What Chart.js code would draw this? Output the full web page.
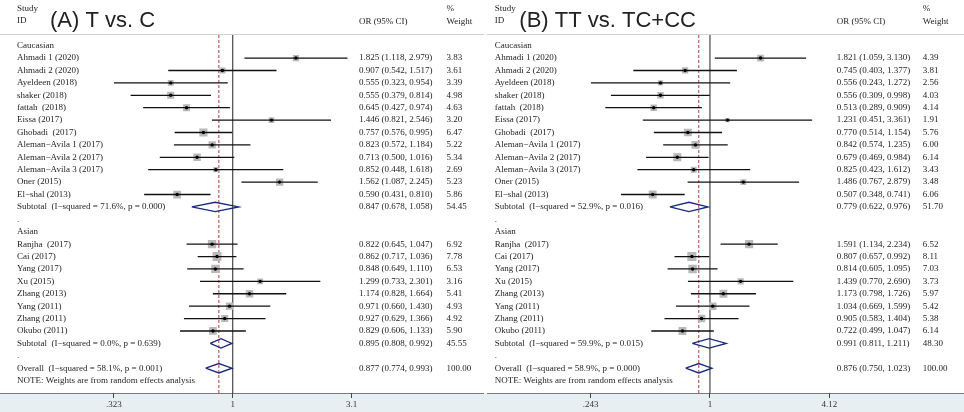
<!DOCTYPE html>
<html>
<head>
<meta charset="utf-8">
<script src="https://cdn.jsdelivr.net/npm/chart.js@4"></script>
<style>
  body { margin: 0; background: #fff; }
  #wrap { position: relative; width: 964px; height: 412px; overflow: hidden; }
  canvas { position: absolute; top: 0; }
</style>
</head>
<body>
<div id="wrap">
  <canvas id="chartA" width="485" height="412" style="left:0"></canvas>
  <canvas id="chartB" width="479" height="412" style="left:485px"></canvas>
</div>
<script>
// study labels, first 12 Caucasian then 8 Asian
const studyNames = [
  'Ahmadi 1 (2020)', 'Ahmadi 2 (2020)', 'Ayeldeen (2018)', 'shaker (2018)', 'fattah  (2018)',
  'Eissa (2017)', 'Ghobadi  (2017)', 'Aleman−Avila 1 (2017)', 'Aleman−Avila 2 (2017)',
  'Aleman−Avila 3 (2017)', 'Oner (2015)', 'El−shal (2013)',
  'Ranjha  (2017)', 'Cai (2017)', 'Yang (2017)', 'Xu (2015)', 'Zhang (2013)',
  'Yang (2011)', 'Zhang (2011)', 'Okubo (2011)'
];
const groupNames = ['Caucasian', 'Asian'];

// (A) T vs. C
const orA     = [1.825, 0.907, 0.555, 0.555, 0.645, 1.446, 0.757, 0.823, 0.713, 0.852, 1.562, 0.590,
                 0.822, 0.862, 0.848, 1.299, 1.174, 0.971, 0.927, 0.829];
const lowA    = [1.118, 0.542, 0.323, 0.379, 0.427, 0.821, 0.576, 0.572, 0.500, 0.448, 1.087, 0.431,
                 0.645, 0.717, 0.649, 0.733, 0.828, 0.660, 0.629, 0.606];
const highA   = [2.979, 1.517, 0.954, 0.814, 0.974, 2.546, 0.995, 1.184, 1.016, 1.618, 2.245, 0.810,
                 1.047, 1.036, 1.110, 2.301, 1.664, 1.430, 1.366, 1.133];
const weightA = [3.83, 3.61, 3.39, 4.98, 4.63, 3.20, 6.47, 5.22, 5.34, 2.69, 5.23, 5.86,
                 6.92, 7.78, 6.53, 3.16, 5.41, 4.93, 4.92, 5.90];
const subOrA = [0.847, 0.895];
const subLowA = [0.678, 0.808];
const subHighA = [1.058, 0.992];
const subWeightA = [54.45, 45.55];
const subStatA = ['Subtotal  (I−squared = 71.6%, p = 0.000)', 'Subtotal  (I−squared = 0.0%, p = 0.639)'];
const overallA = [0.877, 0.774, 0.993];
const overallStatA = 'Overall  (I−squared = 58.1%, p = 0.001)';
const tickValsA = [0.323, 1, 3.1];
const tickLabelsA = ['.323', '1', '3.1'];

// (B) TT vs. TC+CC
const orB     = [1.821, 0.745, 0.556, 0.556, 0.513, 1.231, 0.770, 0.842, 0.679, 0.825, 1.486, 0.507,
                 1.591, 0.807, 0.814, 1.439, 1.173, 1.034, 0.905, 0.722];
const lowB    = [1.059, 0.403, 0.243, 0.309, 0.289, 0.451, 0.514, 0.574, 0.469, 0.423, 0.767, 0.348,
                 1.134, 0.657, 0.605, 0.770, 0.798, 0.669, 0.583, 0.499];
const highB   = [3.130, 1.377, 1.272, 0.998, 0.909, 3.361, 1.154, 1.235, 0.984, 1.612, 2.879, 0.741,
                 2.234, 0.992, 1.095, 2.690, 1.726, 1.599, 1.404, 1.047];
const weightB = [4.39, 3.81, 2.56, 4.03, 4.14, 1.91, 5.76, 6.00, 6.14, 3.43, 3.48, 6.06,
                 6.52, 8.11, 7.03, 3.73, 5.97, 5.42, 5.38, 6.14];
const subOrB = [0.779, 0.991];
const subLowB = [0.622, 0.811];
const subHighB = [0.976, 1.211];
const subWeightB = [51.70, 48.30];
const subStatB = ['Subtotal  (I−squared = 52.9%, p = 0.016)', 'Subtotal  (I−squared = 59.9%, p = 0.015)'];
const overallB = [0.876, 0.750, 1.023];
const overallStatB = 'Overall  (I−squared = 58.9%, p = 0.000)';
const tickValsB = [0.243, 1, 4.12];
const tickLabelsB = ['.243', '1', '4.12'];

const noteText = 'NOTE: Weights are from random effects analysis';

// row layout: 0 Caucasian, 1-12 studies, 13 subtotal, 14 '.', 15 Asian, 16-23, 24 subtotal, 25 '.', 26 overall, 27 note
const studyRow = i => (i < 12 ? i + 1 : i + 4);
const subRows = [13, 24];
const groupRows = [0, 15];
const dotRows = [14, 25];
const overallRow = 26;
const noteRow = 27;

const SERIF = '9px "Liberation Serif", "Times New Roman", serif';
const fmt = (o, l, h) => `${o.toFixed(3)} (${l.toFixed(3)}, ${h.toFixed(3)})`;

const forestPlugin = {
  id: 'forest',
  beforeDraw(chart, args, opts) {
    const { ctx, chartArea: a, width, height } = chart;
    ctx.save();
    ctx.fillStyle = '#ffffff';
    ctx.fillRect(0, 0, width, height);
    ctx.fillStyle = '#e7eff3';
    ctx.fillRect(0, a.bottom, width, height - a.bottom);
    ctx.strokeStyle = '#7a7a7a';
    ctx.lineWidth = 1;
    ctx.beginPath();
    ctx.moveTo(opts.lineFrom, a.bottom + 0.5);
    ctx.lineTo(opts.lineTo, a.bottom + 0.5);
    ctx.stroke();
    ctx.strokeStyle = '#d2d2d2';
    ctx.beginPath();
    ctx.moveTo(opts.lineFrom, a.top - 0.5);
    ctx.lineTo(opts.lineTo, a.top - 0.5);
    ctx.stroke();
    ctx.restore();
  },
  afterDraw(chart, args, opts) {
    const { ctx } = chart;
    const y = chart.scales.y;
    const p = opts.panel;
    ctx.save();
    ctx.fillStyle = '#1e1e1e';
    ctx.textBaseline = 'middle';
    ctx.font = SERIF;
    // header
    ctx.fillText('Study', opts.nameX, 9);
    ctx.fillText('ID', opts.nameX, 21);
    ctx.fillText('OR (95% CI)', opts.orX, 22);
    ctx.fillText('%', opts.wX, 9);
    ctx.fillText('Weight', opts.wX, 22);
    const row = (txt, r, x) => ctx.fillText(txt, x, y.getPixelForValue(r));
    groupRows.forEach((r, g) => row(groupNames[g], r, opts.nameX));
    dotRows.forEach(r => row('.', r, opts.nameX));
    studyNames.forEach((n, i) => {
      const r = studyRow(i);
      row(n, r, opts.nameX);
      row(fmt(p.or[i], p.low[i], p.high[i]), r, opts.orX);
      row(p.weight[i].toFixed(2), r, opts.wX);
    });
    subRows.forEach((r, g) => {
      row(p.subStat[g], r, opts.nameX);
      row(fmt(p.subOr[g], p.subLow[g], p.subHigh[g]), r, opts.orX);
      row(p.subWeight[g].toFixed(2), r, opts.wX);
    });
    row(p.overallStat, overallRow, opts.nameX);
    row(fmt(p.overall[0], p.overall[1], p.overall[2]), overallRow, opts.orX);
    row('100.00', overallRow, opts.wX);
    row(noteText, noteRow, opts.nameX);
    // title
    ctx.font = '22px "Liberation Sans", Arial, sans-serif';
    ctx.fillStyle = '#222';
    ctx.textBaseline = 'alphabetic';
    ctx.fillText(opts.title, opts.titleX, 27);
    ctx.restore();
  }
};

function makeChart(id, p, layout) {
  const yMin = -0.86, yMax = 28;
  const datasets = [];

  // study markers: centre dots, CI lines, weight boxes
  const pts = p.or.map((o, i) => ({ x: o, y: studyRow(i) }));
  datasets.push({
    data: pts, pointStyle: 'circle', pointRadius: 1.7,
    backgroundColor: '#000', borderWidth: 0, order: 0
  });
  p.or.forEach((o, i) => {
    datasets.push({
      data: [{ x: p.low[i], y: studyRow(i) }, { x: p.high[i], y: studyRow(i) }],
      showLine: true, borderColor: '#111', borderWidth: 1.3, pointRadius: 0, order: 1
    });
  });
  datasets.push({
    data: pts, pointStyle: 'rect',
    pointRadius: p.weight.map(w => 3.2 * Math.sqrt(w) / Math.SQRT2),
    backgroundColor: '#b9b9b9', borderWidth: 0, order: 2
  });

  // pooled diamonds
  const dh = 0.38;
  const diamonds = subRows.map((r, g) => [p.subOr[g], p.subLow[g], p.subHigh[g], r])
    .concat([[p.overall[0], p.overall[1], p.overall[2], overallRow]]);
  diamonds.forEach(([o, l, h, r]) => {
    datasets.push({
      data: [{ x: l, y: r }, { x: o, y: r - dh }, { x: h, y: r }, { x: o, y: r + dh }, { x: l, y: r }],
      showLine: true, borderColor: '#1d2b7f', borderWidth: 1.4, pointRadius: 0, order: 1
    });
  });

  // reference lines: no effect and overall estimate
  datasets.push({
    data: [{ x: 1, y: yMin }, { x: 1, y: yMax }],
    showLine: true, borderColor: '#555', borderWidth: 1.3, pointRadius: 0, order: 3
  });
  datasets.push({
    data: [{ x: p.overall[0], y: yMin }, { x: p.overall[0], y: yMax }],
    showLine: true, borderColor: '#b13c3c', borderWidth: 1, borderDash: [3, 2], pointRadius: 0, order: 3
  });

  return new Chart(document.getElementById(id), {
    type: 'scatter',
    data: { datasets },
    options: {
      responsive: false,
      animation: false,
      devicePixelRatio: 1,
      layout: { padding: { left: layout.padLeft, right: layout.padRight, top: 35, bottom: 0 } },
      scales: {
        x: {
          type: 'logarithmic',
          min: p.ticks[0],
          max: p.ticks[p.ticks.length - 1],
          bounds: 'data',
          afterBuildTicks: s => { s.ticks = p.ticks.map(v => ({ value: v })); },
          afterFit: s => { s.height = 19; },
          grid: { drawOnChartArea: false, drawTicks: true, tickLength: 5, tickColor: '#444', tickWidth: 1 },
          border: { display: false },
          ticks: {
            autoSkip: false, maxRotation: 0, padding: 1, color: '#333',
            font: { family: 'Liberation Serif', size: 9 },
            callback: (v, i) => p.tickLabels[i]
          }
        },
        y: { type: 'linear', display: false, reverse: true, min: yMin, max: yMax }
      },
      plugins: {
        legend: { display: false },
        tooltip: { enabled: false },
        forest: Object.assign({ panel: p }, layout)
      }
    },
    plugins: [forestPlugin]
  });
}

document.addEventListener('DOMContentLoaded', () => {
  makeChart('chartA', {
    or: orA, low: lowA, high: highA, weight: weightA,
    subOr: subOrA, subLow: subLowA, subHigh: subHighA, subWeight: subWeightA, subStat: subStatA,
    overall: overallA, overallStat: overallStatA, ticks: tickValsA, tickLabels: tickLabelsA
  }, {
    padLeft: 113.8, padRight: 133.3, nameX: 17, titleX: 50, orX: 359, wX: 446.5,
    title: '(A) T vs. C', lineFrom: 0, lineTo: 484
  });

  makeChart('chartB', {
    or: orB, low: lowB, high: highB, weight: weightB,
    subOr: subOrB, subLow: subLowB, subHigh: subHighB, subWeight: subWeightB, subStat: subStatB,
    overall: overallB, overallStat: overallStatB, ticks: tickValsB, tickLabels: tickLabelsB
  }, {
    padLeft: 105.7, padRight: 134.7, nameX: 9.7, titleX: 34.3, orX: 351.7, wX: 437.7,
    title: '(B) TT vs. TC+CC', lineFrom: 2, lineTo: 479
  });
});
</script>
</body>
</html>
